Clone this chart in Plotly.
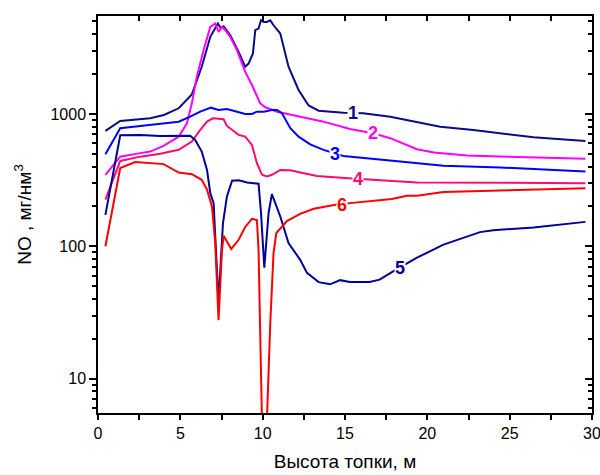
import math
import plotly.graph_objects as go

# ---- data ----
x1 = [0.45, 1.35, 3.17, 4.0, 4.9, 5.7, 6.3, 6.82, 7.28, 7.45, 7.63, 8.03, 8.54, 8.94, 9.15, 9.41,
      9.55, 9.75, 9.9, 10.07, 10.25, 10.46, 10.65, 11.07, 11.57, 12.18, 12.79, 13.4, 14.9, 16.1,
      17.75, 19.16, 20.78, 22.8, 24.43, 26.45, 29.6]
y1 = [745, 886, 928, 983, 1104, 1407, 2275, 3830, 4820, 4450, 4600, 3935, 2943, 2275, 2410, 2865,
      4297, 4420, 5105, 4960, 4960, 5100, 4700, 4055, 2275, 1517, 1160, 1059, 1023, 1012,
      954, 875, 802, 757, 716, 667, 626]

x2 = [0.45, 1.35, 2.57, 3.17, 3.98, 4.9, 5.4, 5.7, 6.0, 6.41, 6.82, 7.12, 7.32, 7.53, 7.73, 8.03,
      8.44, 8.94, 9.35, 9.65, 9.85, 10.16, 10.87, 12.08, 13.7, 15.3, 16.7, 17.75, 18.55, 19.37,
      20.4, 22.4, 24.4, 29.6]
y2 = [347, 476, 506, 520, 574, 674, 851, 1204, 1910, 3034, 4550, 4830, 4170, 4550, 4297, 3830,
      3034, 2085, 1655, 1390, 1204, 1123, 1041, 966, 875, 771, 716, 656, 601, 542,
      511, 485, 477, 458]

x3 = [0.45, 1.35, 2.57, 3.78, 4.9, 5.6, 6.21, 6.86, 7.32, 7.83, 8.44, 8.94, 9.35, 9.65, 10.07,
      10.56, 10.87, 11.17, 11.68, 12.18, 12.89, 13.7, 14.9, 16.7, 18.35, 20.98, 24.43, 29.6]
y3 = [497, 780, 812, 841, 875, 954, 1041, 1116, 1072, 1091, 1041, 1000, 1000, 1041, 1041,
      1072, 1072, 1012, 780, 674, 590, 535, 482, 456, 437, 406, 394, 367]

x4 = [0.45, 1.35, 2.57, 3.78, 4.9, 5.7, 6.21, 6.62, 6.98, 7.63, 7.83, 8.24, 8.54, 8.94, 9.35,
      9.65, 9.96, 10.26, 10.56, 11.07, 11.68, 12.28, 13.3, 15.2, 17.95, 19.37, 29.6]
y4 = [225, 442, 476, 500, 536, 618, 757, 875, 928, 912, 812, 748, 695, 674, 584,
      425, 347, 337, 347, 378, 375, 361, 340, 327, 309, 304, 300]

x5 = [0.45, 1.35, 2.57, 3.78, 5.6, 5.9, 6.3, 6.62, 6.82, 7.02, 7.32, 7.59, 7.83, 8.14, 8.54,
      9.05, 9.75, 9.9, 10.1, 10.36, 10.56, 11.07, 11.57, 12.28, 12.69, 13.4, 14.1, 14.7, 15.3,
      16.5, 17.1, 17.95, 19.37, 20.98, 23.2, 24.0, 26.45, 29.6]
y5 = [173, 690, 695, 682, 686, 637, 520, 378, 252, 212, 38, 150, 238, 313, 315,
      304, 297, 179, 69, 179, 248, 168, 106, 79, 63, 53.6, 51.6, 55.5, 53.8,
      53.8, 56, 65, 82, 103, 128, 132, 139, 153]

x6 = [0.45, 1.35, 2.26, 3.38, 3.98, 4.9, 5.7, 6.3, 6.62, 6.92, 7.12, 7.32, 7.53, 7.63, 8.09,
      8.54, 8.94, 9.35, 9.65, 9.75, 9.85, 9.97, 10.25, 10.46, 10.66, 10.83, 11.47, 12.28, 13.1,
      14.5, 15.3, 17.1, 17.85, 18.76, 19.37, 20.98, 24.4, 29.6]
y6 = [100, 390, 433, 425, 418, 361, 351, 318, 268, 200, 106, 27.7, 94, 120, 95.5,
      112, 140, 161, 158, 94, 16.6, 4, 4.5, 26, 89, 126, 155, 176, 192,
      207, 212, 225, 228, 241, 241, 257, 265, 275]

curve_names = ["1", "2", "3", "4", "5", "6"]
curve_colors = ["#0A0A8C", "#FF00FF", "#0000FF", "#FF0A70", "#00009A", "#FF0000"]
label_x = [15.5, 16.7, 14.4, 15.8, 18.35, 14.8]
label_y = [1012, 716, 497, 324, 69, 204]

x_tick_vals = [0, 2.5, 5, 7.5, 10, 12.5, 15, 17.5, 20, 22.5, 25, 27.5, 30]
x_tick_text = ["0", "", "5", "", "10", "", "15", "", "20", "", "25", "", "30"]
y_tick_vals = [10, 100, 1000]
y_tick_text = ["10", "100", "1000"]
y_minor_vals = [6, 7, 8, 9, 20, 30, 40, 50, 60, 70, 80, 90,
                200, 300, 400, 500, 600, 700, 800, 900, 2000, 3000, 4000, 5000]

X_RANGE = [0, 30]
Y_RANGE = [math.log10(5.5), math.log10(5500)]
FONT = "Liberation Sans, Arial, sans-serif"

fig = go.Figure()
for xs, ys, name, col in zip([x1, x2, x3, x4, x5, x6], [y1, y2, y3, y4, y5, y6],
                             curve_names, curve_colors):
    fig.add_trace(go.Scatter(x=xs, y=ys, mode="lines", name=name,
                             line=dict(color=col, width=2), showlegend=False))

# transparent copy of curve 1 bound to the mirror axes (top/right frame with inward ticks)
fig.add_trace(go.Scatter(x=x1, y=y1, xaxis="x2", yaxis="y2", mode="lines",
                         line=dict(color="rgba(0,0,0,0)", width=0),
                         hoverinfo="skip", showlegend=False))

annotations = []
for name, col, lx, ly in zip(curve_names, curve_colors, label_x, label_y):
    annotations.append(dict(x=lx, y=math.log10(ly), xref="x", yref="y", text="<b>%s</b>" % name,
                            showarrow=False, font=dict(family=FONT, size=18, color=col),
                            bgcolor="white", borderpad=0))

fig.update_layout(
    width=600, height=475,
    margin=dict(l=98, r=8, t=16, b=62, autoexpand=False),
    paper_bgcolor="white", plot_bgcolor="white",
    font=dict(family=FONT, size=16, color="black"),
    annotations=annotations,
    xaxis=dict(range=X_RANGE, tickvals=x_tick_vals, ticktext=x_tick_text, automargin=False,
               ticklabeloverflow="allow",
               ticks="outside", ticklen=5, tickwidth=1.5, tickcolor="black", mirror=True,
               showline=True, linecolor="black", linewidth=1.5, showgrid=False, zeroline=False,
               title=dict(text="Высота топки, м", font=dict(size=19), standoff=14)),
    yaxis=dict(type="log", range=Y_RANGE, tickvals=y_tick_vals, ticktext=y_tick_text,
               automargin=False, ticklabeloverflow="allow",
               ticks="outside", ticklen=7, tickwidth=1.5, tickcolor="black", mirror=True,
               minor=dict(tickvals=y_minor_vals, ticks="outside", ticklen=4, tickwidth=1.5,
                          tickcolor="black", showgrid=False),
               showline=True, linecolor="black", linewidth=1.5, showgrid=False, zeroline=False,
               title=dict(text="NO , мг/нм<sup>3</sup>", font=dict(size=19), standoff=14)),
    xaxis2=dict(range=X_RANGE, overlaying="x", side="top", automargin=False,
                tickvals=x_tick_vals, showticklabels=False,
                ticks="inside", ticklen=5, tickwidth=1.5, tickcolor="black",
                showline=True, linecolor="black", linewidth=1.5, showgrid=False, zeroline=False),
    yaxis2=dict(type="log", range=Y_RANGE, overlaying="y", side="right",
                automargin=False,
                tickvals=y_tick_vals, showticklabels=False,
                ticks="inside", ticklen=7, tickwidth=1.5, tickcolor="black",
                minor=dict(tickvals=y_minor_vals, ticks="inside", ticklen=4, tickwidth=1.5,
                           tickcolor="black", showgrid=False),
                showline=True, linecolor="black", linewidth=1.5, showgrid=False, zeroline=False),
)

fig.write_html("out.html", config={"displayModeBar": False},
               post_script="document.body.style.margin='0';document.body.style.overflow='hidden';")
